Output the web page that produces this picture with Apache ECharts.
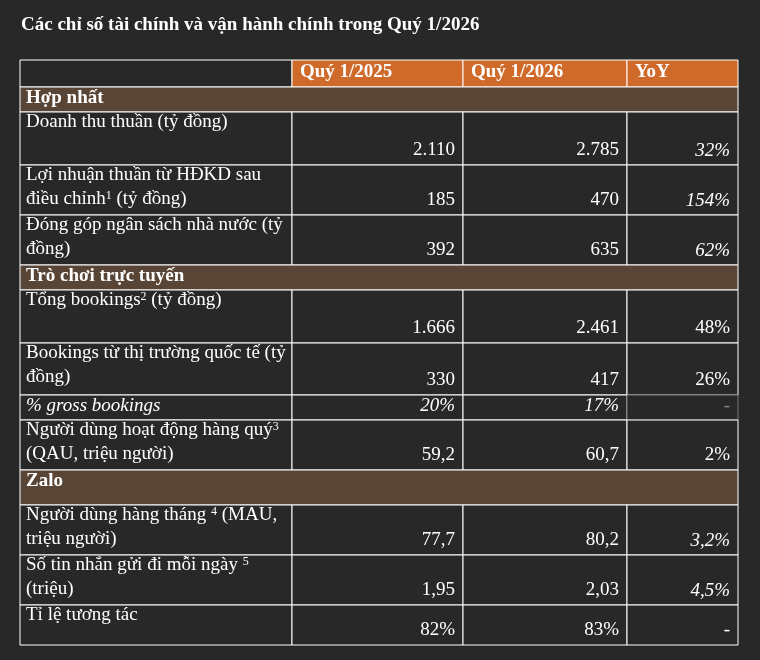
<!DOCTYPE html>
<html><head><meta charset="utf-8">
<script src="https://cdn.jsdelivr.net/npm/echarts@6/dist/echarts.min.js"></script>
<style>html,body{margin:0;background:#282828}#c{width:760px;height:660px}</style>
</head><body><div id="c"></div>
<script>
const title = 'Các chỉ số tài chính và vận hành chính trong Quý 1/2026';
const headers = ['', 'Quý 1/2025', 'Quý 1/2026', 'YoY'];
const rowLabels = [
  ['Hợp nhất'],
  ['Doanh thu thuần (tỷ đồng)'],
  ['Lợi nhuận thuần từ HĐKD sau', 'điều chỉnh{sup|1} (tỷ đồng)'],
  ['Đóng góp ngân sách nhà nước (tỷ', 'đồng)'],
  ['Trò chơi trực tuyến'],
  ['Tổng bookings{sup|2} (tỷ đồng)'],
  ['Bookings từ thị trường quốc tế (tỷ', 'đồng)'],
  ['{it|% gross bookings}'],
  ['Người dùng hoạt động hàng quý{sup|3}', '(QAU, triệu người)'],
  ['Zalo'],
  ['Người dùng hàng tháng {sup|4} (MAU,', 'triệu người)'],
  ['Số tin nhắn gửi đi mỗi ngày {sup|5}', '(triệu)'],
  ['Tỉ lệ tương tác']
];
const rowTypes = ['s','d','d','d','s','d','d','d','d','s','d','d','d'];
const q2025 = ['', '2.110', '185', '392', '', '1.666', '330', '20%', '59,2', '', '77,7', '1,95', '82%'];
const q2026 = ['', '2.785', '470', '635', '', '2.461', '417', '17%', '60,7', '', '80,2', '2,03', '83%'];
const yoy   = ['', '32%', '154%', '62%', '', '48%', '26%', '-', '2%', '', '3,2%', '4,5%', '-'];
const italicYoy = [1,2,3,7,10,11];

const colX = [20, 292, 463, 627, 738];
const rowH = [25, 53, 50, 50, 25, 53, 52, 25, 50, 35, 50, 50, 40];
const top0 = 60, headH = 27;
const F = '"Liberation Serif", "DejaVu Serif", serif';
const W = '#ffffff';
const g = [];
g.push({type:'text', left:21, top:16, style:{text:title, fill:W, font:'bold 19px '+F}});
for (let c=0;c<4;c++){
  g.push({type:'rect', shape:{x:colX[c], y:top0, width:colX[c+1]-colX[c], height:headH},
    style:{fill: c===0 ? '#282828' : '#cf6a2a', stroke:W, lineWidth:1}});
  if (headers[c]) g.push({type:'text', x:colX[c]+8, y:top0+3, style:{text:headers[c], fill:W, font:'bold 19px '+F}});
}
const rich = {sup:{fontSize:12, verticalAlign:'top', fill:W, fontFamily:F, lineHeight:12}, it:{fontStyle:'italic', fontSize:19, fill:W, fontFamily:F}};
let y = top0 + headH;
rowLabels.forEach((lab, i) => {
  const h = rowH[i];
  if (rowTypes[i]==='s'){
    g.push({type:'rect', shape:{x:colX[0], y, width:colX[4]-colX[0], height:h}, style:{fill:'#584536', stroke:W, lineWidth:1}});
    g.push({type:'text', x:colX[0]+6, y:y+2, style:{text:lab[0], fill:W, font:'bold 19px '+F}});
  } else {
    for (let c=0;c<4;c++){
      g.push({type:'rect', shape:{x:colX[c], y, width:colX[c+1]-colX[c], height:h},
        style:{fill:'#282828', stroke: (i===7 && c===3) ? '#777' : W, lineWidth:1}});
    }
    lab.forEach((t, k) => g.push({type:'text', x:colX[0]+6, y:y+1+k*24,
      style:{text:t, fill:W, font:'19px '+F, rich}}));
    const vy = y + h - 24;
    const vals = [q2025[i], q2026[i], yoy[i]];
    vals.forEach((v, k) => {
      const italic = (k===2 && italicYoy.includes(i)) || i===7;
      g.push({type:'text', x:colX[k+2]-8, y:vy, style:{text:v, fill: (v==='-' && i===7)?'#888':W,
        font:(italic ? 'italic ' : '')+'19px '+F, align:'right'}});
    });
  }
  y += h;
});
const chart = echarts.init(document.getElementById('c'));
chart.setOption({backgroundColor:'#282828', graphic:g});
</script></body></html>
